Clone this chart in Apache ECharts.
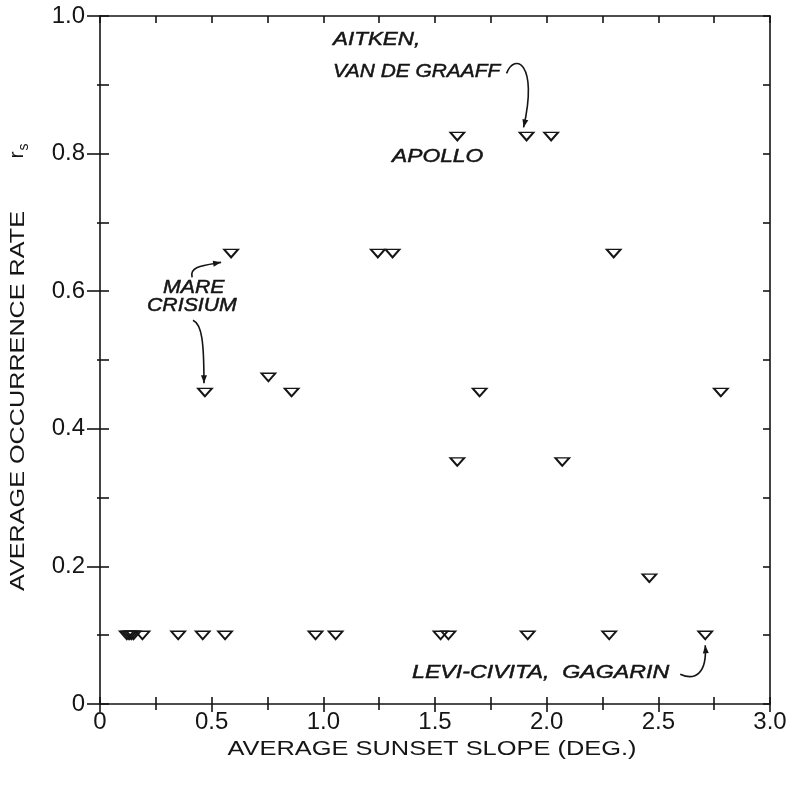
<!DOCTYPE html>
<html>
<head>
<meta charset="utf-8">
<script src="https://cdn.jsdelivr.net/npm/echarts@6/dist/echarts.min.js"></script>
<style>
  html, body { margin: 0; padding: 0; background: #fff; }
  #main { width: 792px; height: 789px; }
</style>
</head>
<body>
<div id="main"></div>
<script>
// average sunset slope (deg.) and average occurrence rate r_s, one entry per crater
const slope = [
  0.12, 0.13, 0.14, 0.15, 0.19, 0.35, 0.46, 0.56, 0.965, 1.055, 1.525, 1.56, 1.915, 2.28, 2.71,
  2.46,
  1.60, 2.07,
  0.47, 0.858, 1.70, 2.78,
  0.754,
  0.587, 1.244, 1.31, 2.30,
  1.60, 1.91, 2.02
];
const rate = [
  0.1, 0.1, 0.1, 0.1, 0.1, 0.1, 0.1, 0.1, 0.1, 0.1, 0.1, 0.1, 0.1, 0.1, 0.1,
  0.183,
  0.352, 0.352,
  0.453, 0.453, 0.453, 0.453,
  0.475,
  0.655, 0.655, 0.655, 0.655,
  0.825, 0.825, 0.825
];
const xTicks = [0, 0.5, 1.0, 1.5, 2.0, 2.5, 3.0];
const yTicks = [0, 0.2, 0.4, 0.6, 0.8, 1.0];

const ink = '#151515';
const font = 'Liberation Sans';
const line = { color: ink, width: 1.6 };

const tickLabel = (v) => (v === 0 ? '0' : v.toFixed(1));

function axis(extra) {
  return Object.assign({
    type: 'value',
    axisLine: { show: true, onZero: false, lineStyle: line },
    axisTick: { show: true, lineStyle: line },
    minorTick: { show: true, splitNumber: 2, lineStyle: line },
    axisLabel: { show: false },
    splitLine: { show: false },
    minorSplitLine: { show: false }
  }, extra);
}

const chart = echarts.init(document.getElementById('main'));

chart.setOption({
  animation: false,
  backgroundColor: '#fff',
  grid: { left: 100, right: 22, top: 16, bottom: 85 },
  xAxis: [
    axis({
      min: xTicks[0], max: xTicks[xTicks.length - 1], interval: 0.5, position: 'bottom',
      axisTick: { show: true, inside: false, length: 8, lineStyle: line },
      minorTick: { show: true, splitNumber: 2, length: 6, lineStyle: line },
      axisLabel: { show: true, formatter: tickLabel, fontFamily: font, fontSize: 24, color: ink, margin: 6 }
    }),
    axis({
      min: 0, max: 3, interval: 0.5, position: 'bottom',
      axisLine: { show: false, onZero: false },
      axisTick: { show: true, inside: true, length: 7, lineStyle: line },
      minorTick: { show: true, splitNumber: 2, length: 7, lineStyle: line }
    }),
    axis({
      min: 0, max: 3, interval: 0.5, position: 'top',
      axisTick: { show: true, inside: true, length: 7, lineStyle: line },
      minorTick: { show: true, splitNumber: 2, length: 7, lineStyle: line }
    })
  ],
  yAxis: [
    axis({
      min: yTicks[0], max: yTicks[yTicks.length - 1], interval: 0.2, position: 'left',
      axisTick: { show: true, inside: false, length: 13, lineStyle: line },
      minorTick: { show: true, splitNumber: 2, length: 3, lineStyle: line },
      axisLabel: { show: true, formatter: tickLabel, fontFamily: font, fontSize: 24, color: ink, margin: 15 }
    }),
    axis({
      min: 0, max: 1, interval: 0.2, position: 'left',
      axisLine: { show: false, onZero: false },
      axisTick: { show: true, inside: true, length: 9, lineStyle: line },
      minorTick: { show: true, splitNumber: 2, length: 9, lineStyle: line }
    }),
    axis({
      min: 0, max: 1, interval: 0.2, position: 'right',
      axisTick: { show: true, inside: true, length: 7, lineStyle: line },
      minorTick: { show: true, splitNumber: 2, length: 7, lineStyle: line }
    })
  ],
  series: [{
    type: 'scatter',
    xAxisIndex: 0,
    yAxisIndex: 0,
    symbol: 'triangle',
    symbolRotate: 180,
    symbolSize: [14, 8],
    itemStyle: { color: 'rgba(0,0,0,0)', borderColor: ink, borderWidth: 1.8, opacity: 1 },
    emphasis: { disabled: true },
    data: slope.map((s, i) => [s, rate[i]])
  }]
});

// annotation arrows: cubic curves given relative to the marked crater (pixels)
const arrows = [
  { at: [1.91, 0.825], c: [[-20, -63], [-12, -84], [12, -74], [-3, -9]] },
  { at: [0.587, 0.655], c: [[-39, 24], [-42, 13], [-28, 12], [-10, 9]] },
  { at: [0.47, 0.453], c: [[-12, -72], [-3, -68], [-1, -50], [-1, -9]] },
  { at: [2.71, 0.1], c: [[-25, 39], [-10, 46], [2, 38], [0, 10]] }
];

const labels = [
  { text: 'AITKEN,', x: 333, y: 40, sx: 1.18 },
  { text: 'VAN DE GRAAFF', x: 333, y: 72, sx: 1.1 },
  { text: 'APOLLO', x: 392, y: 157, sx: 1.2 },
  { text: 'MARE', x: 163, y: 288, sx: 1.12 },
  { text: 'CRISIUM', x: 147, y: 306, sx: 1.12 },
  { text: 'LEVI-CIVITA,  GAGARIN', x: 412, y: 673, sx: 1.22 }
];

const elements = [];
arrows.forEach((a) => {
  const p = chart.convertToPixel({ xAxisIndex: 0, yAxisIndex: 0 }, a.at);
  const q = a.c.map((d) => [p[0] + d[0], p[1] + d[1]]);
  elements.push({
    type: 'bezierCurve',
    shape: { x1: q[0][0], y1: q[0][1], cpx1: q[1][0], cpy1: q[1][1], cpx2: q[2][0], cpy2: q[2][1], x2: q[3][0], y2: q[3][1] },
    style: { stroke: ink, lineWidth: 1.6, fill: null }
  });
  const dx = q[3][0] - q[2][0], dy = q[3][1] - q[2][1];
  const len = Math.hypot(dx, dy), ux = dx / len, uy = dy / len;
  const tip = q[3], back = [tip[0] - ux * 8, tip[1] - uy * 8];
  elements.push({
    type: 'polygon',
    shape: { points: [tip, [back[0] - uy * 3, back[1] + ux * 3], [back[0] + uy * 3, back[1] - ux * 3]] },
    style: { fill: ink }
  });
});

labels.forEach((l) => {
  elements.push({
    type: 'text', x: l.x, y: l.y, scaleX: l.sx,
    style: {
      text: l.text, fontFamily: font, fontStyle: 'italic', fontSize: 19, fill: ink,
      stroke: ink, lineWidth: 0.5, textAlign: 'left', textVerticalAlign: 'middle'
    }
  });
});

// axis titles (widely lettered in the original, so stretched a little)
elements.push({
  type: 'text', x: 432, y: 749, scaleX: 1.21,
  style: { text: 'AVERAGE SUNSET SLOPE (DEG.)', fontFamily: font, fontSize: 21, fill: ink, textAlign: 'center', textVerticalAlign: 'middle' }
});
elements.push({
  type: 'text', x: 18, y: 401, rotation: Math.PI / 2, scaleX: 1.2,
  style: { text: 'AVERAGE OCCURRENCE RATE', fontFamily: font, fontSize: 21, fill: ink, textAlign: 'center', textVerticalAlign: 'middle' }
});
elements.push({
  type: 'text', x: 17, y: 155, rotation: Math.PI / 2,
  style: { text: 'r', fontFamily: font, fontSize: 21, fill: ink, textAlign: 'center', textVerticalAlign: 'middle' }
});
elements.push({
  type: 'text', x: 24, y: 147, rotation: Math.PI / 2,
  style: { text: 's', fontFamily: font, fontSize: 14, fill: ink, textAlign: 'center', textVerticalAlign: 'middle' }
});

chart.setOption({ graphic: { elements: elements } });
</script>
</body>
</html>
